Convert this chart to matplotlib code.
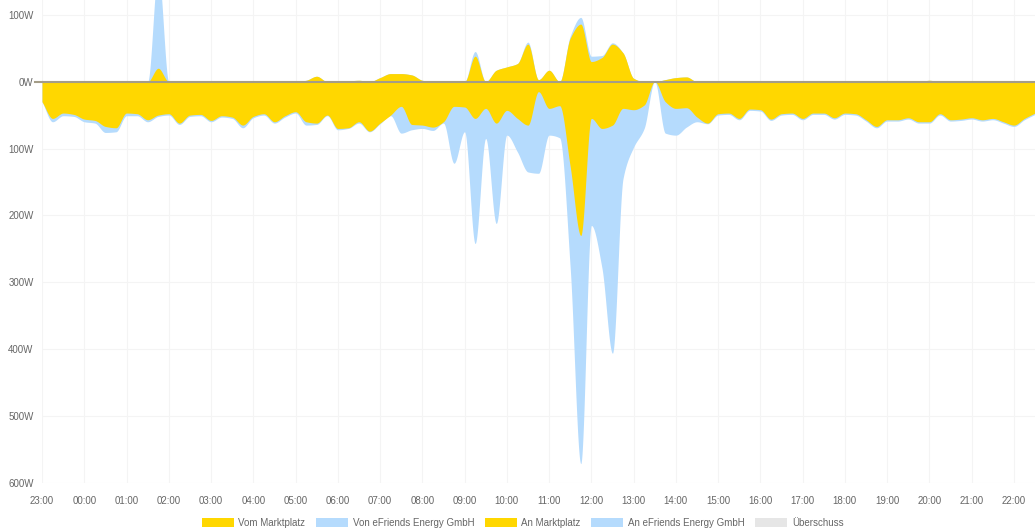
import numpy as np
import matplotlib
matplotlib.use("Agg")
import matplotlib.pyplot as plt
from matplotlib.patches import Patch
import matplotlib.transforms as mtransforms

plt.rcParams['font.family'] = ['Liberation Sans', 'DejaVu Sans']

# ---------------- data (15-minute steps from 23:00) ----------------
hour_labels = ["23:00", "00:00", "01:00", "02:00", "03:00", "04:00", "05:00", "06:00",
               "07:00", "08:00", "09:00", "10:00", "11:00", "12:00", "13:00", "14:00",
               "15:00", "16:00", "17:00", "18:00", "19:00", "20:00", "21:00", "22:00"]
y_ticks = [100, 0, -100, -200, -300, -400, -500, -600]
y_labels = ["100W", "0W", "100W", "200W", "300W", "400W", "500W", "600W"]

# Vom Marktplatz (W, positive)
vom_marktplatz = [0, 0, 0, 0, 0, 0, 0, 0, 0, 0,
                  0, 20, 0, 1, 0, 0, 0, 1, 0, 0,
                  0, 0, 0, 0, 0, 2, 8, 0, 0, 1,
                  2, 0, 6, 12, 12, 10, 2, 0, 0, 0,
                  0, 38, 0, 17, 22, 27, 56, 3, 17, 0,
                  65, 86, 30, 36, 56, 43, 5, 0, 0, 3,
                  6, 7, 0, 0, 0, 0, 0, 0, 0, 0,
                  0, 0, 0, 0, 0, 0, 0, 0, 0, 0,
                  0, 0, 0, 0, 2, 0, 0, 0, 0, 0,
                  0, 0, 0, 0, 0]
# Von eFriends Energy GmbH (W, positive)
von_efriends = [0, 0, 0, 0, 0, 0, 0, 0, 0, 0,
                0, 145, 0, 0, 0, 0, 0, 0, 0, 0,
                0, 0, 0, 0, 0, 0, 0, 0, 0, 0,
                0, 0, 0, 0, 0, 0, 0, 0, 0, 0,
                0, 7, 0, 0, 0, 0, 3, 0, 0, 0,
                3, 10, 8, 3, 2, 0, 0, 0, 0, 0,
                0, 0, 0, 0, 0, 0, 0, 0, 0, 0,
                0, 0, 0, 0, 0, 0, 0, 0, 0, 0,
                0, 0, 0, 0, 0, 0, 0, 0, 0, 0,
                0, 0, 0, 0, 0]
# An Marktplatz (W, shown downward)
an_marktplatz = [30, 55, 47, 49, 56, 58, 67, 69, 47, 48,
                 57, 50, 48, 62, 50, 49, 58, 51, 53, 65,
                 52, 48, 60, 51, 45, 60, 62, 50, 70, 69,
                 60, 74, 62, 50, 37, 64, 65, 68, 60, 37,
                 38, 55, 40, 62, 43, 55, 65, 15, 40, 36,
                 127, 230, 55, 70, 65, 40, 42, 35, 0, 30,
                 40, 39, 53, 62, 48, 47, 55, 41, 42, 56,
                 48, 47, 55, 47, 47, 54, 47, 48, 57, 67,
                 57, 57, 54, 60, 60, 48, 57, 56, 54, 57,
                 55, 60, 65, 55, 47]
# An eFriends Energy GmbH (W, shown downward)
an_efriends = [0, 5, 4, 3, 4, 4, 9, 6, 4, 3,
               3, 2, 2, 2, 2, 2, 2, 2, 2, 4,
               2, 2, 2, 2, 2, 5, 2, 1, 2, 1,
               2, 1, 1, 1, 40, 8, 5, 5, 2, 85,
               37, 187, 45, 150, 37, 50, 70, 122, 40, 48,
               151, 341, 160, 208, 341, 105, 56, 35, 0, 47,
               40, 29, 7, 1, 2, 2, 2, 2, 2, 2,
               2, 2, 2, 2, 2, 2, 2, 2, 2, 2,
               2, 2, 2, 2, 2, 2, 2, 2, 2, 2,
               2, 2, 2, 2, 2]
# Überschuss (W)
ueberschuss = [0] * 95

GOLD = '#FFD700'
BLUE = '#B5DBFD'
GREY = '#E6E6E6'
ZERO = '#a49d88'


def pchip(x, y, xn):
    x = np.asarray(x, float)
    y = np.asarray(y, float)
    h = np.diff(x)
    d = np.diff(y) / h
    m = np.zeros_like(y)
    for k in range(1, len(y) - 1):
        if d[k - 1] * d[k] > 0:
            w1 = 2 * h[k] + h[k - 1]
            w2 = h[k] + 2 * h[k - 1]
            m[k] = (w1 + w2) / (w1 / d[k - 1] + w2 / d[k])
    m[0] = d[0]
    m[-1] = d[-1]
    idx = np.clip(np.searchsorted(x, xn) - 1, 0, len(x) - 2)
    t = (xn - x[idx]) / h[idx]
    h00 = 2 * t**3 - 3 * t**2 + 1
    h10 = t**3 - 2 * t**2 + t
    h01 = -2 * t**3 + 3 * t**2
    h11 = t**3 - t**2
    return (h00 * y[idx] + h10 * h[idx] * m[idx] +
            h01 * y[idx + 1] + h11 * h[idx] * m[idx + 1])


n = len(an_marktplatz)
t = np.arange(n) * 0.25
tf = np.linspace(t[0], t[-1], 4000)

pos1 = np.array(vom_marktplatz, float)
pos2 = pos1 + np.array(von_efriends, float)
neg1 = -np.array(an_marktplatz, float)
neg2 = neg1 - np.array(an_efriends, float)

fig = plt.figure(figsize=(10.35, 5.31), dpi=100)
ax = fig.add_axes([42 / 1035, 1 - 483 / 531, 1 - 42 / 1035, 483 / 531])

ax.fill_between(tf, 0, pchip(t, pos2, tf), color=BLUE, lw=0, zorder=2)
ax.fill_between(tf, 0, pchip(t, pos1, tf), color=GOLD, lw=0, zorder=3)
ax.fill_between(tf, 0, pchip(t, neg2, tf), color=BLUE, lw=0, zorder=2)
ax.fill_between(tf, 0, pchip(t, neg1, tf), color=GOLD, lw=0, zorder=3)
ax.plot(t, ueberschuss, color=ZERO, lw=1.5, zorder=4, solid_capstyle='butt')

ax.set_xlim(0, 23.5)
ax.set_ylim(-600, 122)

ax.set_xticks(np.arange(len(hour_labels)))
ax.set_xticklabels(hour_labels)
ax.set_yticks(y_ticks)
ax.set_yticklabels(y_labels)
ax.tick_params(axis='both', length=0, labelsize=7, colors='#666666')
ax.tick_params(axis='x', pad=9)
ax.tick_params(axis='y', pad=6)
ax.grid(True, color='#f4f4f4', lw=0.8, zorder=0)
ax.set_axisbelow(True)
for s in ax.spines.values():
    s.set_visible(False)

# small tick at zero
trans = mtransforms.blended_transform_factory(ax.transAxes, ax.transData)
ax.plot([-7 / 993, 0], [0, 0], transform=trans, color=ZERO, lw=1.5,
        clip_on=False, zorder=4)

handles = [Patch(facecolor=GOLD, edgecolor='none', label='Vom Marktplatz'),
           Patch(facecolor=BLUE, edgecolor='none', label='Von eFriends Energy GmbH'),
           Patch(facecolor=GOLD, edgecolor='none', label='An Marktplatz'),
           Patch(facecolor=BLUE, edgecolor='none', label='An eFriends Energy GmbH'),
           Patch(facecolor=GREY, edgecolor='none', label='Überschuss')]
leg = fig.legend(handles=handles, loc='center', bbox_to_anchor=(0.505, 1 - 522.5 / 531),
                 ncol=5, frameon=False, fontsize=7, handlelength=3.3, handleheight=1.0,
                 handletextpad=0.45, columnspacing=1.1, borderaxespad=0)
for txt in leg.get_texts():
    txt.set_color('#666666')

fig.savefig('out.png', dpi=100)
